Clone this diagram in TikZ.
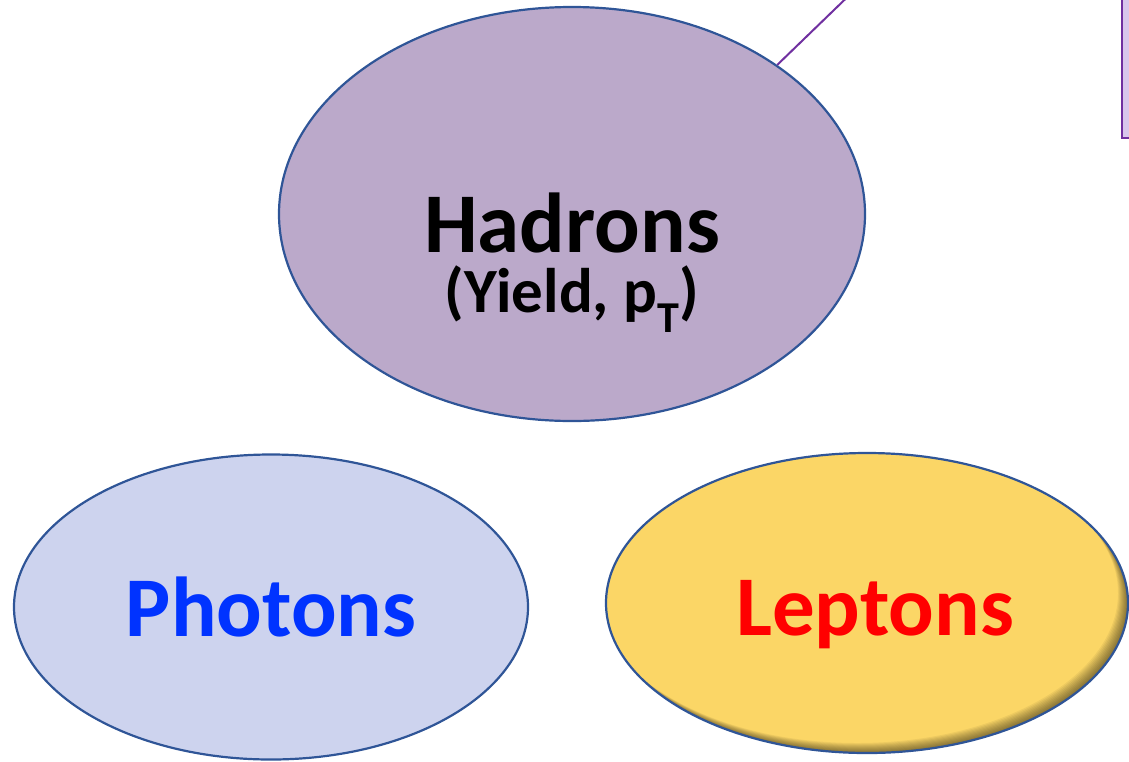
\documentclass[tikz,border=0pt]{standalone}
\usepackage{fontspec}
\setmainfont{Carlito}
\usepackage{tikz}
\usetikzlibrary{shapes.geometric}
\definecolor{PRborder}{RGB}{47,85,151}
\definecolor{PRhadron}{RGB}{187,169,202}
\definecolor{PRphoton}{RGB}{205,211,238}
\definecolor{PRlepton}{RGB}{251,214,102}
\definecolor{PRblue}{RGB}{0,51,255}
\definecolor{PRred}{RGB}{255,0,0}
\definecolor{PRpurple}{RGB}{112,48,160}
\definecolor{PRlilac}{RGB}{216,198,236}
\tikzset{
  probe/.style={ellipse,draw=PRborder,line width=2.2pt,inner sep=0pt},
  probetext/.style={font=\fontsize{85}{90}\selectfont\bfseries,align=center},
  link/.style={draw=PRpurple,line width=2pt},
  panel/.style={draw=PRpurple,line width=2.2pt,fill=PRlilac,inner sep=0pt}
}
\begin{document}
\begin{tikzpicture}[x=1pt,y=-1pt]
  \useasboundingbox (0,0) rectangle (1129,761);
  \clip (0,0) rectangle (1129,761);
  \node[panel,anchor=north west,minimum width=40pt,minimum height=147pt] (box) at (1121,-10) {};
  \node[probe,fill=PRhadron,minimum width=586pt,minimum height=414pt] (had) at (572,214) {};
  \node[probetext] (hadtxt) at (572,263)
    {Hadrons\\[-30pt]\fontsize{63}{63}\selectfont (Yield, p\textsubscript{T})};
  \node[probe,fill=PRphoton,minimum width=514pt,minimum height=305pt] (pho) at (271,607) {};
  \node[probetext,text=PRblue] (photxt) at (pho) {Photons};
  % inner shadow along the lower right rim
  \begin{scope}
    \clip (867,603) ellipse [x radius=261pt,y radius=150pt];
    \fill[PRlepton] (867,603) ellipse [x radius=261pt,y radius=150pt];
    \foreach \d in {1,...,10}
      \fill[black,opacity=0.055,even odd rule] (600,440) rectangle (1140,770)
        (867-\d,603-\d) ellipse [x radius=261pt,y radius=150pt];
  \end{scope}
  \node[probe,minimum width=522pt,minimum height=300pt] (lep) at (867,603) {};
  \node[probetext,text=PRred] (leptxt) at (875,615) {Leptons};
  \coordinate (up) at (865,-20);
  \draw[link] (had.36.7) -- (up);
\end{tikzpicture}
\end{document}
